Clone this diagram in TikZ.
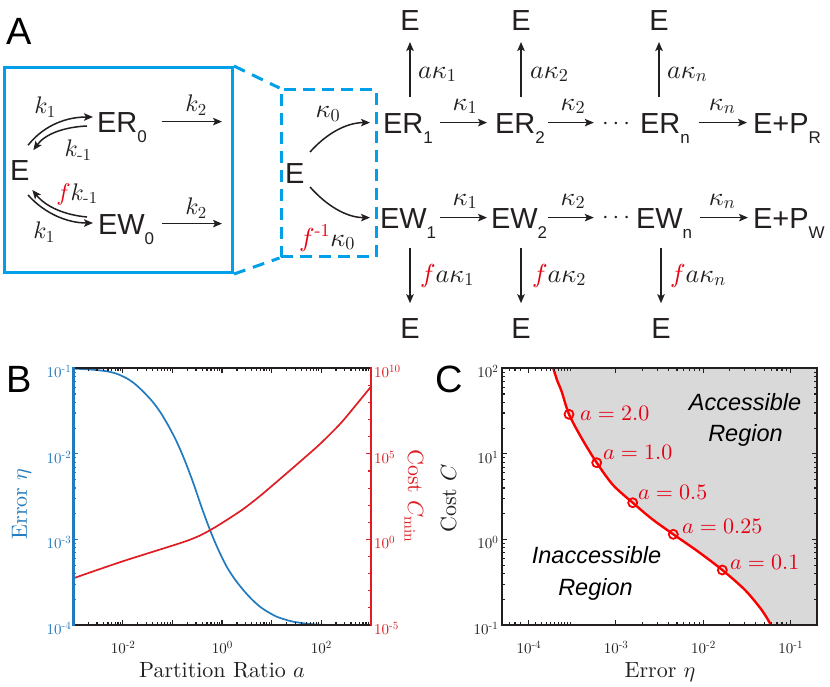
\documentclass[tikz,border=0pt]{standalone}
\usepackage{amsmath}
\usepackage[no-math]{fontspec}
\setmainfont{lmroman10-regular.otf}[ItalicFont=lmroman10-italic.otf]
\newfontfamily\hv{Liberation Sans}
\DeclareFontFamily{OML}{cmm}{\skewchar\font127 }
\DeclareFontShape{OML}{cmm}{m}{it}{<->cmmi10}{}
\DeclareFontFamily{OMS}{cmsy}{\skewchar\font48 }
\DeclareFontShape{OMS}{cmsy}{m}{n}{<->cmsy10}{}
\DeclareFontFamily{OT1}{cmr}{\hyphenchar\font45 }
\DeclareFontShape{OT1}{cmr}{m}{n}{<->cmr10}{}
\DeclareFontFamily{OMX}{cmex}{}
\DeclareFontShape{OMX}{cmex}{m}{n}{<->cmex10}{}
\usetikzlibrary{arrows.meta,calc}
\definecolor{ink}{RGB}{35,31,32}
\definecolor{boxblue}{RGB}{0,160,233}
\definecolor{pblue}{RGB}{33,123,190}
\definecolor{pred}{RGB}{222,30,35}
\definecolor{cred}{RGB}{250,0,0}
\definecolor{fred}{RGB}{230,0,18}
\definecolor{regiongray}{RGB}{217,217,217}
\newcommand\chsub[1]{\raisebox{-10pt}[0pt][0pt]{\fontsize{17}{17}\selectfont #1}}
\newcommand\tk[1]{10\raisebox{5pt}{\fontsize{11}{11}\selectfont #1}}
\tikzset{
  sp/.style={font=\hv\fontsize{29}{29}\selectfont, text=ink, inner sep=0pt, outer sep=0pt, text height=20.8pt, text depth=0pt, anchor=base west},
  spc/.style={sp, anchor=base},
  lab/.style={font=\fontsize{24}{24}\selectfont, text=ink, inner sep=0pt},
  labb/.style={font=\fontsize{26}{26}\selectfont, text=ink, inner sep=0pt},
  arr/.style={draw=ink, line width=1.5pt, -{Stealth[length=9pt,width=7.5pt,inset=2pt]}},
  tl/.style={font=\fontsize{15}{15}\selectfont, inner sep=0pt},
  al/.style={font=\fontsize{22}{22}\selectfont, inner sep=0pt, text=ink},
  pl/.style={font=\hv\fontsize{38}{38}\selectfont, inner sep=0pt, anchor=base west, text=black},
  reg/.style={font=\hv\itshape\fontsize{23.5}{23.5}\selectfont, inner sep=0pt, anchor=base, text=black},
  mk/.style={circle, draw=cred, line width=1.8pt, minimum size=9pt, inner sep=0pt},
  tick/.style={line width=1.2pt},
}
\begin{document}
\begin{tikzpicture}[x=1pt,y=-1pt]
\useasboundingbox (0,0) rectangle (830,686);
\fill[white] (0,0) rectangle (830,686);

% ================= Panel A =================
\node[pl] (lA) at (6,44) {A};
\node[draw=boxblue, line width=3pt, minimum width=228pt, minimum height=205pt, inner sep=0pt] (box1) at (118.5,170) {};
\node[draw=boxblue, line width=3pt, dash pattern=on 12pt off 7pt, minimum width=95pt, minimum height=167pt, inner sep=0pt] (box2) at (328.5,173) {};
\draw[boxblue, line width=3pt, dash pattern=on 12pt off 8pt] (box1.north east) -- (box2.north west);
\draw[boxblue, line width=3pt, dash pattern=on 12pt off 8pt] (box1.south east) -- (box2.south west);

% left box
\node[sp] (E0) at (10,180) {E};
\node[sp] (ER0) at (97,132) {ER\chsub{0}};
\node[sp] (EW0) at (98,234) {EW\chsub{0}};
\coordinate (k2r) at (222,121.6);
\coordinate (k2w) at (222,223.6);
\draw[arr, shorten <=15pt] (ER0.east) -- (k2r);
\draw[arr, shorten <=8pt] (EW0.east) -- (k2w);
\draw[arr] ($(E0.north east)+(-1.3,-14)$) .. controls (45,124) and (68,117) .. ($(ER0.west)+(-4,-4.6)$);
\draw[arr] ($(ER0.west)+(-10,4.4)$) .. controls (64,127) and (45,134) .. ($(E0.north east)+(4,-9)$);
\draw[arr] ($(E0.south east)+(-1.3,15)$) .. controls (45,214) and (68,223) .. ($(EW0.west)+(-5,-0.6)$);
\draw[arr] ($(EW0.west)+(-11,-6.6)$) .. controls (65,215) and (46,207) .. ($(E0.south east)+(3,10)$);
\node[lab] (lk1) at (45,107) {$k_1$};
\node[lab] (lkm1) at (78,150) {$k_{\text{-}1}$};
\node[lab] (lfk) at (77,194) {$\textcolor{fred}{f}k_{\text{-}1}$};
\node[lab] (lk1b) at (44,232) {$k_1$};
\node[lab] (lk2) at (196,105) {$k_2$};
\node[lab] (lk2b) at (196,208) {$k_2$};

% dashed box
\node[sp] (E1) at (285,183) {E};
\node[sp] (ER1) at (383,133) {ER\chsub{1}};
\node[sp] (EW1) at (380,228) {EW\chsub{1}};
\draw[arr] ($(E1.north east)+(5.7,-10.2)$) .. controls (326,134) and (346,122.6) .. ($(ER1.west)+(-13,0)$);
\draw[arr] ($(E1.south east)+(5.7,4)$) .. controls (326,205) and (346,217.6) .. ($(EW1.west)+(-10,0)$);
\node[labb] (lkap0) at (328,114) {$\kappa_0$};
\node[labb] (lfkap0) at (327,238) {$\textcolor{fred}{f^{\text{-}1}}\kappa_0$};

% chains
\node[sp] (ER2) at (495,133) {ER\chsub{2}};
\node[font=\fontsize{24}{24}\selectfont, text=ink, inner sep=0pt, anchor=base] (dots1) at (618,129) {$\cdots$};
\node[sp] (ERn) at (640,133) {ER\chsub{n}};
\node[sp] (EPR) at (753,133) {E+P\chsub{R}};
\node[sp] (EW2) at (491,228) {EW\chsub{2}};
\node[font=\fontsize{24}{24}\selectfont, text=ink, inner sep=0pt, anchor=base] (dots2) at (618,223.5) {$\cdots$};
\node[sp] (EWn) at (636,228) {EW\chsub{n}};
\node[sp] (EPW) at (753,228) {E+P\chsub{W}};

\draw[arr, shorten <=7pt, shorten >=8pt] (ER1.east) -- (ER2.west);
\draw[arr, shorten <=3pt, shorten >=8pt] (ER2.east) -- (dots1.west |- ER2.east);
\draw[arr, shorten <=9pt, shorten >=6pt] (ERn.east) -- (EPR.west);
\draw[arr, shorten <=4pt, shorten >=4pt] (EW1.east) -- (EW2.west);
\draw[arr, shorten <=1pt, shorten >=8pt] (EW2.east) -- (dots2.west |- EW2.east);
\draw[arr, shorten <=8pt, shorten >=5pt] (EWn.east) -- (EPW.west);

\node[labb, anchor=base] (kt1) at (465,110) {$\kappa_1$};
\node[labb, anchor=base] (kt2) at (573,110) {$\kappa_2$};
\node[labb, anchor=base] (ktn) at (722,110) {$\kappa_n$};
\node[labb, anchor=base] (kb1) at (465,205) {$\kappa_1$};
\node[labb, anchor=base] (kb2) at (573,205) {$\kappa_2$};
\node[labb, anchor=base] (kbn) at (722,205) {$\kappa_n$};

\node[spc] (T1) at (410,30) {E};
\node[spc] (T2) at (521,30) {E};
\node[spc] (T3) at (659,30) {E};
\node[spc] (B1) at (410,338) {E};
\node[spc] (B2) at (521,338) {E};
\node[spc] (B3) at (661,338) {E};
\draw[arr, shorten <=15pt, shorten >=12pt] (T1.south |- ER1.north) -- (T1.south);
\draw[arr, shorten <=15pt, shorten >=12pt] (T2.south |- ER2.north) -- (T2.south);
\draw[arr, shorten <=15pt, shorten >=12pt] (T3.south |- ERn.north) -- (T3.south);
\draw[arr, shorten <=20pt, shorten >=14pt] (B1.north |- EW1.south) -- (B1.north);
\draw[arr, shorten <=20pt, shorten >=14pt] (B2.north |- EW2.south) -- (B2.north);
\draw[arr, shorten <=20pt, shorten >=14pt] (B3.north |- EWn.south) -- (B3.north);
\node[labb, anchor=base west] (ak1) at (418,78) {$a\kappa_1$};
\node[labb, anchor=base west] (ak2) at (530,78) {$a\kappa_2$};
\node[labb, anchor=base west] (akn) at (667,78) {$a\kappa_n$};
\node[labb, anchor=base west] (fak1) at (420,282) {$\textcolor{fred}{f}a\kappa_1$};
\node[labb, anchor=base west] (fak2) at (532,282) {$\textcolor{fred}{f}a\kappa_2$};
\node[labb, anchor=base west] (fakn) at (670,282) {$\textcolor{fred}{f}a\kappa_n$};

% ================= Panel B =================
\node[pl] (lB) at (6,392) {B};
\draw[pblue, line width=1.7pt] plot[smooth] coordinates {(73.5,368.6) (90,369.5) (105,371) (116,373.5) (126.7,378.3) (135,384) (143.3,391.7) (152,401) (160,411.7) (168,425) (176.7,441.7) (185,461) (193.3,483) (201.5,507) (210,530) (218,549) (226.7,566.7) (235,579.5) (243.3,590) (251.5,599) (260,606.7) (268,612) (276.7,616.7) (285,619.5) (293.3,621.7) (310,624) (330,625) (370,625)};
\draw[pred, line width=1.7pt] plot[smooth] coordinates {(73.3,578.3) (100,569) (126.7,560) (160,549.5) (185,541.5) (200,535.5) (213,528.5) (226.7,520) (243.3,509) (260,496) (280,479) (300,461.7) (320,444) (340,424) (356,405) (370.7,387)};
% ticks bottom/top
\foreach \d in {-3,...,2}{
  \foreach \m in {1,...,9}{
    \pgfmathsetmacro\xx{73.3+(\d+3+log10(\m))*49.57}
    \pgfmathsetmacro\tl{\m==1 ? 5 : 2.8}
    \draw[ink, tick] (\xx,625) -- (\xx,{625-\tl});
    \draw[ink, tick] (\xx,368.3) -- (\xx,{368.3+\tl});
  }
}
% left ticks (blue)
\foreach \d in {-4,...,-2}{
  \foreach \m in {1,...,9}{
    \pgfmathsetmacro\yy{625-(\d+4+log10(\m))*85.57}
    \pgfmathsetmacro\tl{\m==1 ? 5 : 2.8}
    \draw[pblue, tick] (73.3,\yy) -- ({73.3+\tl},\yy);
  }
}
% right ticks (red)
\foreach \e in {-5,...,10}{
  \pgfmathsetmacro\yy{625-(\e+5)*17.113}
  \pgfmathsetmacro\tl{mod(\e+5,5)==0 ? 5 : 3}
  \draw[pred, tick] (370.7,\yy) -- ({370.7-\tl},\yy);
}
\draw[ink, line width=1.8pt] (73.3,368.3) -- (370.7,368.3);
\draw[ink, line width=1.8pt] (73.3,625) -- (370.7,625);
\draw[pblue, line width=2.4pt] (73.3,367.4) -- (73.3,625.9);
\draw[pred, line width=2.4pt] (370.7,367.4) -- (370.7,625.9);
\foreach \v/\lab [count=\i] in {368.3/-1, 453.9/-2, 539.4/-3, 625/-4}{
  \node[tl, text=pblue, anchor=base east] (bl\i) at (71,\v+9.5) {\tk{\lab}};
}
\foreach \v/\lab [count=\i] in {368.3/10, 453.9/5, 539.4/0, 625/-5}{
  \node[tl, text=pred, anchor=base west] (br\i) at (374,\v+9.5) {\tk{\lab}};
}
\foreach \v/\lab [count=\i] in {122.9/-2, 222/0, 321.2/2}{
  \node[tl, text=ink, anchor=base] (bb\i) at (\v,653) {\tk{\lab}};
}
\node[al, text=pblue, rotate=90, anchor=base] (ylB) at (27,504) {Error $\eta$};
\node[al, text=pred, rotate=-90, anchor=base] (yrB) at (408,496) {Cost $C_{\min}$};
\node[al, anchor=base] (xlB) at (222,677) {Partition Ratio $a$};

% ================= Panel C =================
\node[pl] (lC) at (435,392) {C};
\fill[regiongray] plot[smooth] coordinates {(553.3,368.3) (557,380) (561.7,391.7) (569,414.3) (581.7,438.3) (596.7,462.7) (613,485) (632.7,502.7) (652,519) (673.3,534.3) (698,551.5) (722.3,570) (745,590) (761.7,610) (771,625)} -- (816.7,625) -- (816.7,368.3) -- cycle;
\draw[cred, line width=2.4pt] plot[smooth] coordinates {(553.3,368.3) (557,380) (561.7,391.7) (569,414.3) (581.7,438.3) (596.7,462.7) (613,485) (632.7,502.7) (652,519) (673.3,534.3) (698,551.5) (722.3,570) (745,590) (761.7,610) (771,625)};
\node[mk] (c1) at (569,414.3) {};
\node[mk] (c2) at (596.7,462.7) {};
\node[mk] (c3) at (632.7,502.7) {};
\node[mk] (c4) at (673.3,534.3) {};
\node[mk] (c5) at (722.3,570) {};
\node[al, text=fred, anchor=base west] (la1) at (580,420) {$a=2.0$};
\node[al, text=fred, anchor=base west] (la2) at (603,459) {$a=1.0$};
\node[al, text=fred, anchor=base west] (la3) at (638,499) {$a=0.5$};
\node[al, text=fred, anchor=base west] (la4) at (682,533) {$a=0.25$};
\node[al, text=fred, anchor=base west] (la5) at (730,569) {$a=0.1$};
\node[reg] (acc1) at (745,410) {Accessible};
\node[reg] (acc2) at (745.5,441.7) {Region};
\node[reg] (inac1) at (596.5,563.3) {Inaccessible};
\node[reg] (inac2) at (595.5,595) {Region};
% C ticks x
\foreach \v in {-4.0969,-4.0,-3.9208,-3.8539,-3.7959,-3.7447,-3.6990,-3.6576,-3.6198,-3.5850,-3.5528,-3.5229,-3.0,-2.6990,-2.5229,-2.3979,-2.3010,-2.2218,-2.1549,-2.0969,-2.0458,-2.0,-1.6990,-1.5229,-1.3979,-1.3010,-1.2218,-1.1549,-1.0969,-1.0458,-1.0}{
  \pgfmathsetmacro\xx{502.3+(\v+4.301)*87.3}
  \pgfmathsetmacro\tl{(abs(\v-round(\v))<0.001) ? 5 : 2.8}
  \draw[ink, tick] (\xx,625) -- (\xx,{625-\tl});
  \draw[ink, tick] (\xx,368.3) -- (\xx,{368.3+\tl});
}
\foreach \v in {-4.3,-4.2218,-4.1549}{
  \pgfmathsetmacro\xx{502.3+(\v+4.301)*87.3}
  \draw[ink, tick] (\xx,625) -- (\xx,{625-2.8});
  \draw[ink, tick] (\xx,368.3) -- (\xx,{368.3+2.8});
}
% C ticks y
\foreach \d in {-1,...,1}{
  \foreach \m in {1,...,9}{
    \pgfmathsetmacro\yy{625-(\d+1+log10(\m))*85.57}
    \pgfmathsetmacro\tl{\m==1 ? 5 : 2.8}
    \draw[ink, tick] (502.3,\yy) -- ({502.3+\tl},\yy);
    \draw[ink, tick] (816.7,\yy) -- ({816.7-\tl},\yy);
  }
}
\draw[ink, line width=2.2pt] (502.3,368.3) rectangle (816.7,625);
\foreach \v/\lab [count=\i] in {368.3/2, 453.9/1, 539.4/0, 625/-1}{
  \node[tl, text=ink, anchor=base east] (cl\i) at (498,\v+9.5) {\tk{\lab}};
}
\foreach \v/\lab [count=\i] in {528.6/-4, 615.9/-3, 703.2/-2, 790.5/-1}{
  \node[tl, text=ink, anchor=base] (cb\i) at (\v,653) {\tk{\lab}};
}
\node[al, rotate=90, anchor=base] (ylC) at (456,498.5) {Cost $C$};
\node[al, anchor=base] (xlC) at (660,677) {Error $\eta$};
\end{tikzpicture}
\end{document}
